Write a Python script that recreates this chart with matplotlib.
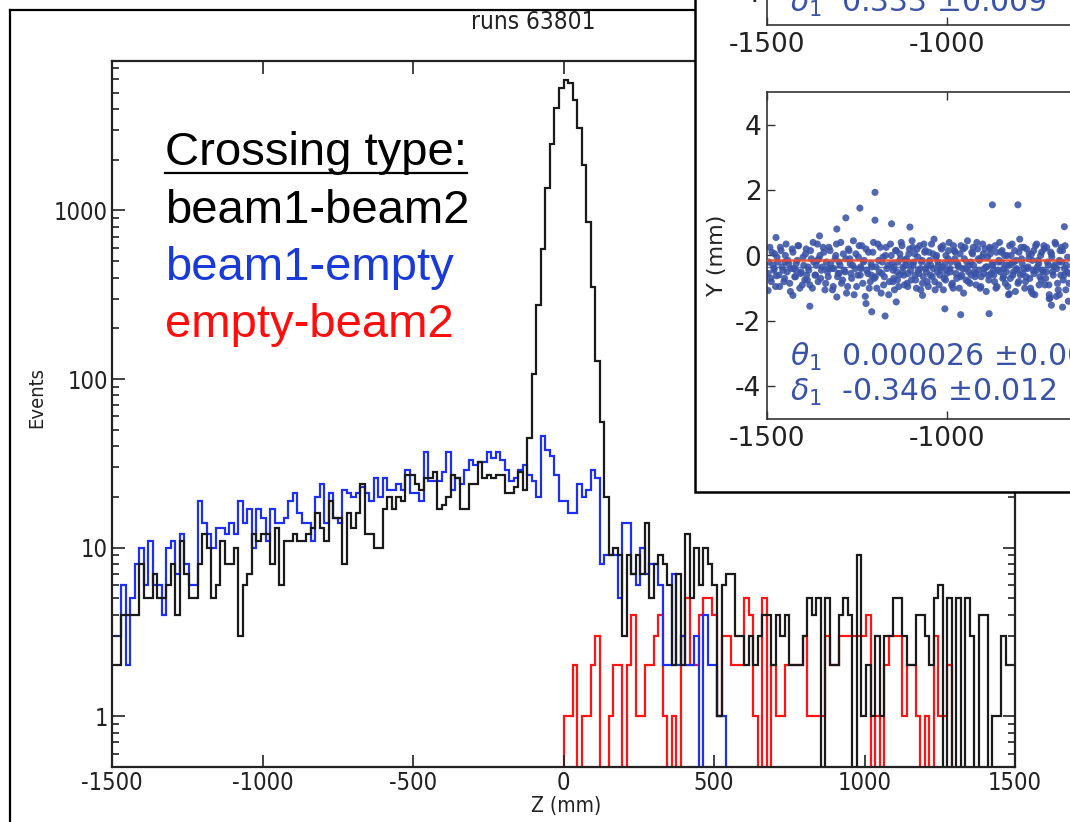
import numpy as np
import matplotlib
matplotlib.use('Agg')
import matplotlib.pyplot as plt
from matplotlib.patches import Rectangle
from matplotlib.lines import Line2D
from matplotlib.ticker import LogLocator, NullFormatter, FixedLocator, FixedFormatter

plt.rcParams['axes.unicode_minus'] = False

# ---------------- data ----------------
bin_edges = np.arange(-1500, 1501, 15)   # 200 bins of 15 mm

beam1_beam2 = [
    2, 2, 4, 4, 4, 4, 8, 5, 5, 7, 5, 5, 6, 8, 4, 11, 7, 5, 5, 8, 12, 10, 5, 6, 11, 8, 8, 10, 3, 6, 7, 12,
    11, 12, 12, 8, 13, 6, 11, 11, 12, 11, 11, 12, 13, 16, 13, 11, 19, 15, 15, 8, 16, 13, 16, 24, 12, 12, 10, 10, 17, 20, 17, 20, 19, 27,
    27, 24, 22, 26, 26, 28, 17, 18, 20, 27, 26, 17, 17, 24, 24, 32, 26, 27, 26, 27, 27, 21, 21, 23, 28, 22,
    45, 107, 274, 588, 1368, 2490, 4060, 5350, 5960, 5710, 4540, 3100, 1850, 860, 350, 128, 56,
    20, 9, 10, 9, 3, 9, 7, 9, 7, 14, 5, 8, 9, 8, 6, 2, 7, 2, 12, 5, 10, 6, 10, 8, 6, 1,
    6, 7, 7, 3, 3, 2, 3, 2, 3, 4, 4, 2, 4, 3, 4, 2, 2, 2, 3, 5, 4, 5, 0, 5, 2, 2, 4, 5, 4, 0, 9,
    1, 2, 1, 3, 1, 3, 3, 5, 5, 3, 2, 2, 4, 4, 3, 2, 5, 6, 0, 5, 0, 5, 0, 5, 3, 0, 4, 4, 0, 1, 1, 3, 2, 2,
]
beam1_empty = [
    3, 3, 6, 2, 5, 8, 10, 6, 11, 6, 6, 4, 10, 11, 7, 12, 8, 6, 6, 19, 14, 12, 10, 13, 13, 12, 14, 12, 19, 14, 17, 10,
    17, 15, 11, 17, 14, 14, 15, 19, 21, 16, 14, 14, 11, 20, 24, 14, 21, 15, 14, 22, 21, 20, 21, 23, 21, 19, 26, 20, 26, 22, 22, 24, 22, 29,
    21, 21, 19, 37, 25, 25, 25, 28, 37, 22, 26, 24, 29, 33, 31, 32, 32, 37, 34, 37, 33, 29, 25, 26, 29, 31,
    27, 25, 20, 46, 38, 35, 27, 19, 19, 16, 16, 24, 20, 22, 29, 26, 8, 9, 9, 9, 5, 14, 14, 7, 6, 10, 7, 8, 8, 6,
    2, 2, 7, 2, 3, 2, 2, 3, 0, 4, 2, 2, 1, 1,
] + [0] * 64
empty_beam2 = [0] * 100 + [
    1, 1, 2, 0, 1, 1, 2, 3, 0, 0, 1, 2, 2, 0, 2, 4, 1, 1, 2, 2, 3, 4, 1, 0, 1, 0, 3, 5, 2, 2, 4, 5,
    5, 4, 1, 3, 3, 2, 2, 2, 5, 4, 1, 0, 5, 0, 2, 1, 1, 2, 2, 2, 2, 3, 1, 1, 1, 1, 3, 2, 2, 3, 3, 3, 3, 3,
    3, 4, 0, 1, 0, 2, 3, 3, 3, 1, 2, 2, 1, 0, 1, 0, 3, 1, 1, 2,
] + [0] * 14

series_labels = ['beam1-beam2', 'beam1-empty', 'empty-beam2']
series_colors = ['#1a1a1a', '#1f2ff0', '#ff1414']
text_colors = ['black', '#1a3ad8', '#ff0d0d']
legend_title = 'Crossing type:'
main_title = 'runs 63801'
x_label = 'Z (mm)'
y_label = 'Events'
x_ticks = [-1500, -1000, -500, 0, 500, 1000, 1500]
y_ticks = [1, 10, 100, 1000]

# inset (alignment residuals vs Z)
inset_x = [
    -1497, -1492, -1488, -1483, -1479, -1474, -1470, -1465, -1461, -1456, -1451, -1447, -1442, -1437, -1433,
    -1428, -1423, -1419, -1414, -1409, -1405, -1400, -1395, -1391, -1386, -1381, -1377, -1372, -1367, -1363,
    -1358, -1353, -1349, -1344, -1339, -1335, -1330, -1325, -1321, -1316, -1311, -1307, -1302, -1297, -1293,
    -1288, -1283, -1279, -1274, -1269, -1265, -1260, -1255, -1251, -1246, -1241, -1237, -1232, -1227, -1223,
    -1218, -1213, -1209, -1204, -1199, -1195, -1190, -1185, -1181, -1176, -1171, -1167, -1162, -1157, -1153,
    -1148, -1143, -1139, -1134, -1129, -1125, -1120, -1115, -1111, -1106, -1101, -1097, -1092, -1087, -1083,
    -1078, -1073, -1069, -1064, -1059, -1055, -1050, -1045, -1041, -1036, -1031, -1027, -1022, -1017, -1013,
    -1008, -1003, -999, -994, -989, -985, -980, -975, -971, -966, -961, -957, -952, -947, -943,
    -938, -933, -929, -924, -919, -915, -910, -905, -901, -896, -891, -887, -882, -877, -873,
    -868, -863, -859, -854, -849, -845, -840, -835, -831, -826, -821, -817, -812, -807, -803,
    -798, -793, -789, -784, -779, -775, -770, -765, -761, -756, -751, -747, -742, -737, -733,
    -728, -723, -719, -714, -709, -705, -700, -695, -691, -686, -681, -677, -672, -667, -663,
    -1200, -1242, -1281, -1306, -1354, -1475, -1200, -1154, -1103, -874, -803, -674,
    -1381, -1209, -1172, -1006, -962, -883, -710, -1497, -1428, -1306, -1225, -1141, -1068, -827, -762, -716, -688, -679,
]
inset_y = [
    -0.55, 0.25, -0.80, -0.30, 0.05, -0.62, -0.20, -0.95, 0.15, -0.45, -0.70, 0.35, -0.15, -0.85, -0.40,
    0.10, -0.65, -0.25, 0.30, -1.00, -0.50, -0.05, -0.75, 0.20, -0.35, -0.90, -0.10, 0.40, -0.60, -0.30,
    -0.80, 0.00, -0.45, 0.25, -1.05, -0.20, -0.65, 0.15, -0.40, -0.95, -0.10, 0.35, -0.55, -0.30, -0.85,
    0.05, -0.50, -1.15, 0.20, -0.25, -0.70, 0.45, -0.40, -0.95, -0.05, -0.60, 0.30, -0.20, -1.25, -0.45,
    0.10, -0.80, -0.35, 0.40, -0.65, -1.00, -0.15, 0.25, -0.55, -0.90, 0.00, -0.40, -1.20, 0.35, -0.25,
    -0.70, 0.15, -0.50, -0.95, -0.10, 0.30, -0.60, -0.30, -0.85, 0.05, -0.45, 0.45, -0.20, -0.75, 0.20,
    -0.55, -1.05, -0.15, 0.35, -0.40, -0.80, 0.10, -0.30, -0.65, 0.50, -0.05, -0.50, -0.90, 0.25, -0.35,
    -0.70, 0.00, -0.45, 0.40, -0.20, -0.85, 0.15, -0.55, -0.25, -1.00, 0.30, -0.40, -0.10, -0.75, 0.45,
    -0.30, -0.60, 0.05, -0.50, -0.90, 0.20, -0.15, -0.65, 0.35, -0.40, -1.10, -0.05, 0.25, -0.55, -0.30,
    -0.80, 0.10, -0.45, 0.40, -0.20, -0.70, 0.00, -0.50, -0.95, 0.30, -0.25, -0.60, 0.15, -0.40, -0.85,
    0.50, -0.10, -0.55, -1.00, 0.20, -0.35, -0.70, 0.05, -0.45, -1.20, 0.35, -0.15, -0.65, 0.10, -0.50,
    -0.90, 0.25, -0.30, -1.30, -0.05, -0.60, 0.40, -0.40, -1.05, 0.15, -0.20, -0.75, 0.30, -0.50, -1.40,
    1.93, 1.45, 1.15, 0.81, 0.60, 0.55, 1.08, 0.97, 0.87, 1.55, 1.55, 0.88,
    -1.55, -1.72, -1.85, -1.63, -1.81, -1.78, -1.52, -1.07, -1.22, -1.27, -1.47, -1.42, -1.22, -1.17, -1.17, -1.32, -1.20, -1.58,
]
inset_points_more = [
    (-1495, -0.20), (-1490, -0.70), (-1486, 0.10), (-1481, -0.45), (-1476, -0.95), (-1472, -0.05), (-1467, -0.60), (-1463, 0.25), (-1458, -0.35), (-1453, -0.80),
    (-1449, 0.00), (-1444, -0.50), (-1440, -0.25), (-1435, -1.10), (-1430, 0.20), (-1426, -0.40), (-1421, -0.65), (-1416, -0.15), (-1412, 0.30), (-1407, -0.55),
    (-1402, -0.90), (-1398, -0.30), (-1393, 0.05), (-1388, -0.75), (-1384, -0.45), (-1379, 0.15), (-1374, -1.00), (-1370, -0.20), (-1365, -0.60), (-1360, 0.35),
    (-1356, -0.10), (-1351, -0.70), (-1346, -0.35), (-1342, 0.10), (-1337, -0.85), (-1332, -0.50), (-1328, 0.25), (-1323, -0.25), (-1318, -1.05), (-1314, -0.40),
    (-1309, 0.00), (-1304, -0.65), (-1300, -0.20), (-1295, 0.40), (-1290, -0.75), (-1286, -0.45), (-1281, -0.10), (-1276, -0.95), (-1272, 0.15), (-1267, -0.55),
    (-1262, -0.30), (-1258, -1.20), (-1253, 0.05), (-1248, -0.60), (-1244, 0.30), (-1239, -0.40), (-1234, -0.85), (-1230, -0.15), (-1225, 0.20), (-1220, -0.55),
    (-1216, -1.00), (-1211, -0.25), (-1206, 0.10), (-1202, -0.70), (-1197, -0.35), (-1192, 0.35), (-1188, -0.50), (-1183, -1.15), (-1178, -0.05), (-1174, -0.65),
    (-1169, 0.25), (-1164, -0.30), (-1160, -0.80), (-1155, 0.00), (-1150, -0.45), (-1146, -1.05), (-1141, 0.15), (-1136, -0.20), (-1132, -0.60), (-1127, 0.40),
    (-1122, -0.35), (-1118, -0.90), (-1113, -0.10), (-1108, -0.55), (-1104, 0.20), (-1099, -0.75), (-1094, -0.30), (-1090, 0.05), (-1085, -1.00), (-1080, -0.45),
    (-1076, 0.30), (-1071, -0.20), (-1066, -0.65), (-1062, 0.10), (-1057, -0.50), (-1052, -0.95), (-1048, -0.15), (-1043, 0.35), (-1038, -0.40), (-1034, -0.80),
    (-1029, 0.00), (-1024, -0.30), (-1020, -0.60), (-1015, 0.20), (-1010, -1.05), (-1006, -0.25), (-1001, -0.55), (-996, 0.15), (-992, -0.40), (-987, -0.90),
    (-982, 0.30), (-978, -0.10), (-973, -0.70), (-968, -0.35), (-964, 0.05), (-959, -0.60), (-954, -1.15), (-950, 0.25), (-945, -0.20), (-940, -0.50),
    (-936, -0.85), (-931, 0.10), (-926, -0.30), (-922, -0.65), (-917, 0.40), (-912, -0.45), (-908, -1.00), (-903, -0.05), (-898, -0.55), (-894, 0.20),
    (-889, -0.35), (-884, -0.75), (-880, 0.05), (-875, -0.25), (-870, -0.60), (-866, 0.30), (-861, -0.95), (-856, -0.15), (-852, -0.50), (-847, 0.15),
    (-842, -0.40), (-838, -0.85), (-833, 0.00), (-828, -0.30), (-824, -0.70), (-819, 0.35), (-814, -0.20), (-810, -1.10), (-805, -0.45), (-800, 0.10),
    (-796, -0.60), (-791, -0.25), (-786, 0.25), (-782, -0.80), (-777, -0.40), (-772, 0.05), (-768, -1.00), (-763, -0.15), (-758, -0.55), (-754, 0.30),
    (-749, -0.35), (-744, -0.90), (-740, 0.00), (-735, -0.45), (-730, 0.20), (-726, -0.70), (-721, -0.20), (-716, -1.20), (-712, 0.10), (-707, -0.50),
    (-702, -0.30), (-698, 0.35), (-693, -0.85), (-688, -0.15), (-684, -0.60), (-679, 0.15), (-674, -0.40), (-670, -1.05), (-665, -0.05), (-660, -0.55),
    (-1147, -0.35), (-1138, -0.75), (-1131, 0.05), (-1123, -0.50), (-1116, -0.15), (-1109, -0.95), (-1102, -0.25), (-1095, 0.25), (-1089, -0.60), (-1081, -0.05),
    (-1074, -0.40), (-1068, -0.85), (-1060, 0.15), (-1054, -0.30), (-1046, -0.60), (-1039, 0.05), (-1033, -1.05), (-1025, -0.20), (-1018, -0.45), (-1011, 0.30),
    (-1004, -0.75), (-997, -0.10), (-990, -0.50), (-983, -1.00), (-977, 0.10), (-969, -0.30), (-963, -0.65), (-955, 0.20), (-948, -0.40), (-941, -0.80),
    (-934, -0.20), (-927, 0.25), (-920, -0.55), (-913, -0.10), (-906, -0.95), (-899, 0.05), (-892, -0.35), (-885, -0.60), (-878, 0.20), (-871, -0.45),
    (-864, -1.00), (-857, -0.20), (-850, 0.10), (-843, -0.65), (-836, -0.30), (-829, -1.20), (-822, 0.00), (-815, -0.50), (-808, -0.15), (-801, -0.80),
    (-794, 0.25), (-787, -0.40), (-780, -0.65), (-773, -0.10), (-766, -1.10), (-759, 0.15), (-752, -0.45), (-745, -0.25), (-738, -0.75), (-731, 0.30),
    (-724, -0.50), (-717, -0.90), (-710, 0.05), (-703, -0.35), (-696, -1.25), (-689, -0.20), (-682, 0.25), (-675, -0.60), (-668, -0.30), (-661, -0.85),
    (-1480, -0.40), (-1450, -0.20), (-1420, -0.45), (-1390, -0.60), (-1360, -0.15), (-1330, -0.40), (-1300, -0.55), (-1270, -0.10), (-1240, -0.35),
    (-1210, -0.60), (-1180, -0.20), (-1150, -0.80),
]
inset_red_line = -0.13
inset_fit_line = -0.346
inset_text_lower = [r'$\theta_1$  0.000026 $\pm$0.000', r'$\delta_1$  -0.346 $\pm$0.012']
inset_text_upper = r'$\delta_1$  0.333 $\pm$0.009'
inset_xticks = [-1500, -1000, -500, 0, 500, 1000, 1500]
inset_yticks = [-4, -2, 0, 2, 4]
inset_ylabel = 'Y (mm)'
inset_color = '#3a53a6'

# ---------------- figure ----------------
W, H = 1070, 822
fig = plt.figure(figsize=(W / 100, H / 100), dpi=100)
fig.patch.set_facecolor('white')


def fx(px):
    return px / W


def fy(py):
    return 1 - py / H


# outer frame lines of the slide
fig.add_artist(Line2D([fx(10), fx(1075)], [fy(10), fy(10)], color='black', lw=1.6, zorder=1))
fig.add_artist(Line2D([fx(10), fx(10)], [fy(10), fy(830)], color='black', lw=1.6, zorder=1))

# main axes
ax = fig.add_axes([fx(112), fy(767), fx(1015) - fx(112), fy(61) - fy(767)])
ax.set_yscale('log')
ax.set_xlim(-1500, 1500)
ax.set_ylim(0.5, 7700)
floor = 1e-3
for vals, col in [(empty_beam2, series_colors[2]), (beam1_empty, series_colors[1]), (beam1_beam2, series_colors[0])]:
    v = np.array(vals, dtype=float)
    v[v <= 0] = floor
    ax.stairs(v, bin_edges, color=col, lw=1.6, baseline=None)

tick_size = 17
ax.xaxis.set_major_locator(FixedLocator(x_ticks))
ax.xaxis.set_major_formatter(FixedFormatter([str(t) for t in x_ticks]))
ax.yaxis.set_major_locator(FixedLocator(y_ticks))
ax.yaxis.set_major_formatter(FixedFormatter([str(t) for t in y_ticks]))
ax.yaxis.set_minor_locator(LogLocator(base=10, subs=np.arange(2, 10)))
ax.yaxis.set_minor_formatter(NullFormatter())
for lab in ax.get_yticklabels() + ax.get_xticklabels():
    lab.set_fontfamily('DejaVu Sans')
    lab.set_fontstretch('condensed')
    lab.set_fontsize(tick_size)
    lab.set_color('#222222')
ax.tick_params(which='both', direction='in', top=True, right=True, width=1.2, color='#222222')
ax.tick_params(which='major', length=9)
ax.tick_params(which='minor', length=5)
ax.tick_params(axis='x', pad=3)
ax.tick_params(axis='y', pad=3)
for sp in ax.spines.values():
    sp.set_linewidth(1.6)
    sp.set_color('#222222')

fig.text(fx(566), fy(806), x_label, ha='center', va='center', fontsize=15,
         family='DejaVu Sans', stretch='condensed', color='#222222')
fig.text(fx(37), fy(398), y_label, ha='center', va='center', rotation=90, fontsize=14.5,
         family='DejaVu Sans', stretch='condensed', color='#222222')
fig.text(fx(533), fy(22), main_title, ha='center', va='center', fontsize=17.5,
         family='DejaVu Sans', stretch='condensed', color='#222222')

# crossing type legend
leg_font = dict(family='Liberation Sans', size=34)
t0 = fig.text(fx(165), fy(165), legend_title, ha='left', va='baseline', color='black', **leg_font)
baselines = [223, 280, 337]
for lab, col, b in zip(series_labels, text_colors, baselines):
    fig.text(fx(165), fy(b), lab, ha='left', va='baseline', color=col, **leg_font)
fig.canvas.draw()
bb = t0.get_window_extent()
fig.add_artist(Line2D([bb.x0 / W, bb.x1 / W], [fy(173), fy(173)], color='black', lw=1.6))

# inset box
fig.add_artist(Rectangle((fx(695), fy(492)), fx(1100) - fx(695), fy(-20) - fy(492),
                         facecolor='white', edgecolor='black', lw=1.8, zorder=5))

inset_w = fx(767 + 3000 * 0.36) - fx(767)
inset_h = fy(92) - fy(419)


def style_inset(a):
    a.set_xlim(-1500, 1500)
    a.set_ylim(-5, 5)
    a.set_xticks(inset_xticks)
    a.set_xticklabels([str(t) for t in inset_xticks], fontsize=19, color='#222222')
    a.set_yticks(inset_yticks)
    a.set_yticklabels([str(t) for t in inset_yticks], fontsize=19, color='#222222')
    a.tick_params(direction='in', top=True, right=True, length=6, width=1.0, color='#333333')
    a.tick_params(axis='x', pad=5)
    a.tick_params(axis='y', pad=4)
    for sp in a.spines.values():
        sp.set_linewidth(1.2)
        sp.set_color('#333333')


px_all = inset_x + [p[0] for p in inset_points_more]
py_all = inset_y + [p[1] for p in inset_points_more]

ax_low = fig.add_axes([fx(767), fy(419), inset_w, inset_h], zorder=6)
style_inset(ax_low)
ax_low.axhline(inset_fit_line, color='#6575c4', lw=1.0, zorder=1)
ax_low.scatter(px_all, py_all, s=26, color=inset_color, alpha=0.88, edgecolors='none', zorder=2)
ax_low.axhline(inset_red_line, color='#ef4a2c', lw=1.8, alpha=0.9, zorder=3)
ax_low.set_ylabel(inset_ylabel, fontsize=16, color='#222222', labelpad=6)
ax_low.text(-1436, -3.1, inset_text_lower[0], fontsize=21.5, color=inset_color, va='center', ha='left')
ax_low.text(-1436, -4.2, inset_text_lower[1], fontsize=21.5, color=inset_color, va='center', ha='left')

ax_up = fig.add_axes([fx(767), fy(25), inset_w, inset_h], zorder=6)
style_inset(ax_up)
ax_up.text(-1436, -4.35, inset_text_upper, fontsize=21.5, color=inset_color, va='center', ha='left')

fig.savefig('out.png', dpi=100)
